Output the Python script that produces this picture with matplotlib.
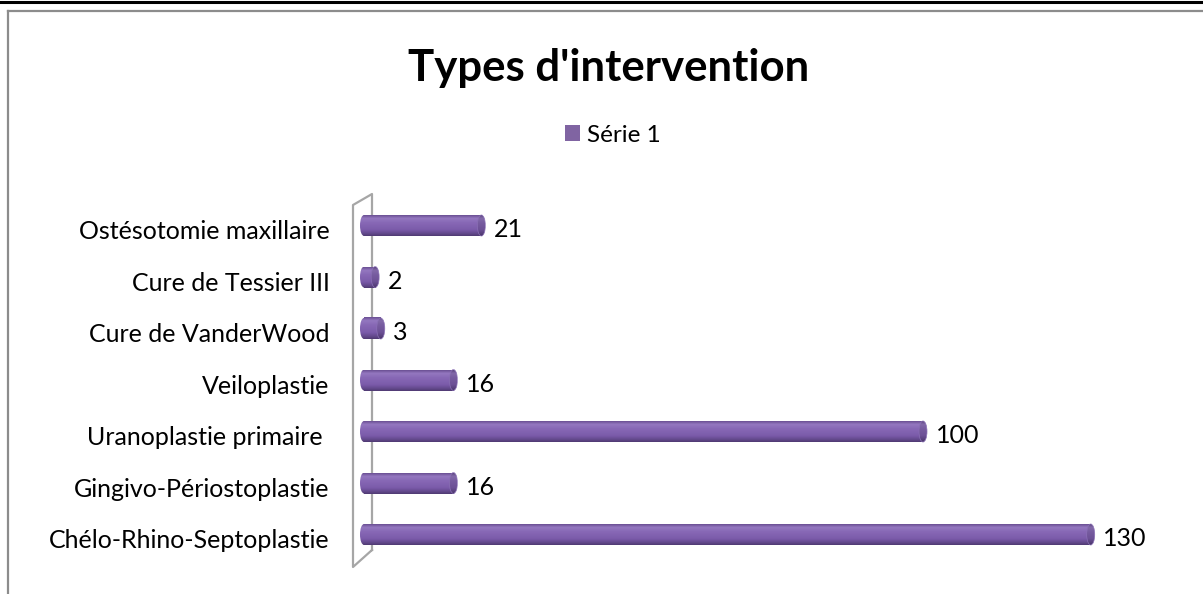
import numpy as np
import matplotlib
matplotlib.use("Agg")
import matplotlib.pyplot as plt
from matplotlib.patches import Ellipse, Patch
from matplotlib.lines import Line2D
from matplotlib.colors import to_rgb
from matplotlib.transforms import ScaledTranslation

# ---- data ----
categories = ["Chélo-Rhino-Septoplastie", "Gingivo-Périostoplastie", "Uranoplastie primaire ",
              "Veiloplastie", "Cure de VanderWood", "Cure de Tessier III", "Ostésotomie maxillaire"]
values = [130, 16, 100, 16, 3, 2, 21]
series_name = "Série 1"
title = "Types d'intervention"

W, H = 1203, 594
plt.rcParams['font.family'] = ['Lato', 'DejaVu Sans']
fig = plt.figure(figsize=(W / 100, H / 100), dpi=100)

def fx(x):
    return x / W

def fy(y):
    return 1 - y / H

# frame lines
fig.add_artist(Line2D([0, 1], [fy(1.5), fy(1.5)], color='black', lw=2.2))
fig.add_artist(Line2D([fx(8), 1], [fy(10.5), fy(10.5)], color='#8c8c8c', lw=1.6))
fig.add_artist(Line2D([fx(8), fx(8)], [fy(10.5), 0], color='#8c8c8c', lw=1.6))

# axes placement
ax_l, ax_r, ax_t, ax_b = 353, 1160, 194, 567
ax = fig.add_axes([fx(ax_l), fy(ax_b), (ax_r - ax_l) / W, (ax_b - ax_t) / H])
x0_px, sx = 364, 5.59
xmin = -(x0_px - ax_l) / sx
xmax = (ax_r - x0_px) / sx
yc0, ysp = 534.5, 51.5
ymin = -(ax_b - yc0) / ysp
ymax = 6 + (225.5 - ax_t) / ysp

bar_h = 21 / ysp
cap_w = 8 / sx

# vertical gradient (top -> bottom) for the cylinder body
stops = [(0.0, '#6a4f93'), (0.15, '#9478c0'), (0.35, '#8869b6'), (0.7, '#7b5baa'),
         (0.9, '#614789'), (1.0, '#4f3a72')]
n = 64
t = np.linspace(0, 1, n)
cols = np.zeros((n, 3))
for c in range(3):
    cols[:, c] = np.interp(t, [s[0] for s in stops], [to_rgb(s[1])[c] for s in stops])
grad_body = cols[:, None, :]
grad_cap = np.clip(cols * 0.88, 0, 1)[:, None, :]

text_shift = ScaledTranslation(0, -4 / 100, fig.dpi_scale_trans)

ypos = np.arange(len(categories))
bars = ax.barh(ypos, values, height=bar_h, color='#8064a2', zorder=2)
for b, v, y in zip(bars, values, ypos):
    b.set_alpha(0)
    # left rounded end
    e_left = Ellipse((0, y), cap_w, bar_h, facecolor='none', edgecolor='none')
    ax.add_patch(e_left)
    im = ax.imshow(grad_body, extent=(-cap_w / 2, cap_w / 2, y - bar_h / 2, y + bar_h / 2),
                   aspect='auto', zorder=3, interpolation='bilinear')
    im.set_clip_path(e_left)
    # body
    ax.imshow(grad_body, extent=(0, v, y - bar_h / 2, y + bar_h / 2),
              aspect='auto', zorder=3, interpolation='bilinear')
    # right cap face
    e_right = Ellipse((v, y), cap_w, bar_h, facecolor='none', edgecolor='none')
    ax.add_patch(e_right)
    im2 = ax.imshow(grad_cap, extent=(v - cap_w / 2, v + cap_w / 2, y - bar_h / 2, y + bar_h / 2),
                    aspect='auto', zorder=4, interpolation='bilinear')
    im2.set_clip_path(e_right)
    ax.add_patch(Ellipse((v, y), cap_w, bar_h, facecolor='none', edgecolor='#8a70b5',
                         lw=0.5, zorder=5))
    ax.annotate(str(v), xy=(v, y), xytext=(9, -3), textcoords='offset points',
                ha='left', va='center', fontsize=18, color='black')

ax.set_xlim(xmin, xmax)
ax.set_ylim(ymin, ymax)
ax.set_yticks(ypos)
ax.set_yticklabels(categories, fontsize=18)
ax.tick_params(axis='y', length=0, pad=17)
ax.set_xticks([])
for lab in ax.get_yticklabels():
    lab.set_transform(lab.get_transform() + text_shift)
for s in ax.spines.values():
    s.set_visible(False)
ax.patch.set_alpha(0)

# 3D wall outline
def axx(x):
    return (x - ax_l) / (ax_r - ax_l)

def axy(y):
    return (ax_b - y) / (ax_b - ax_t)

wx = [372, 353, 353, 372, 372]
wy = [550, 567, 205, 194, 550]
ax.add_line(Line2D([axx(x) for x in wx], [axy(y) for y in wy], transform=ax.transAxes,
                   color='#a6a6a6', lw=1.6, zorder=1, clip_on=False))

fig.text(fx(609), fy(68), title, ha='center', va='center', fontsize=31.5, fontweight='bold')
fig.legend(handles=[Patch(facecolor='#8064a2', label=series_name)], loc='center',
           bbox_to_anchor=(fx(613), fy(135)), frameon=False, fontsize=17.5,
           handlelength=0.6, handleheight=0.6, handletextpad=0.3)

fig.savefig('out.png', dpi=100)
